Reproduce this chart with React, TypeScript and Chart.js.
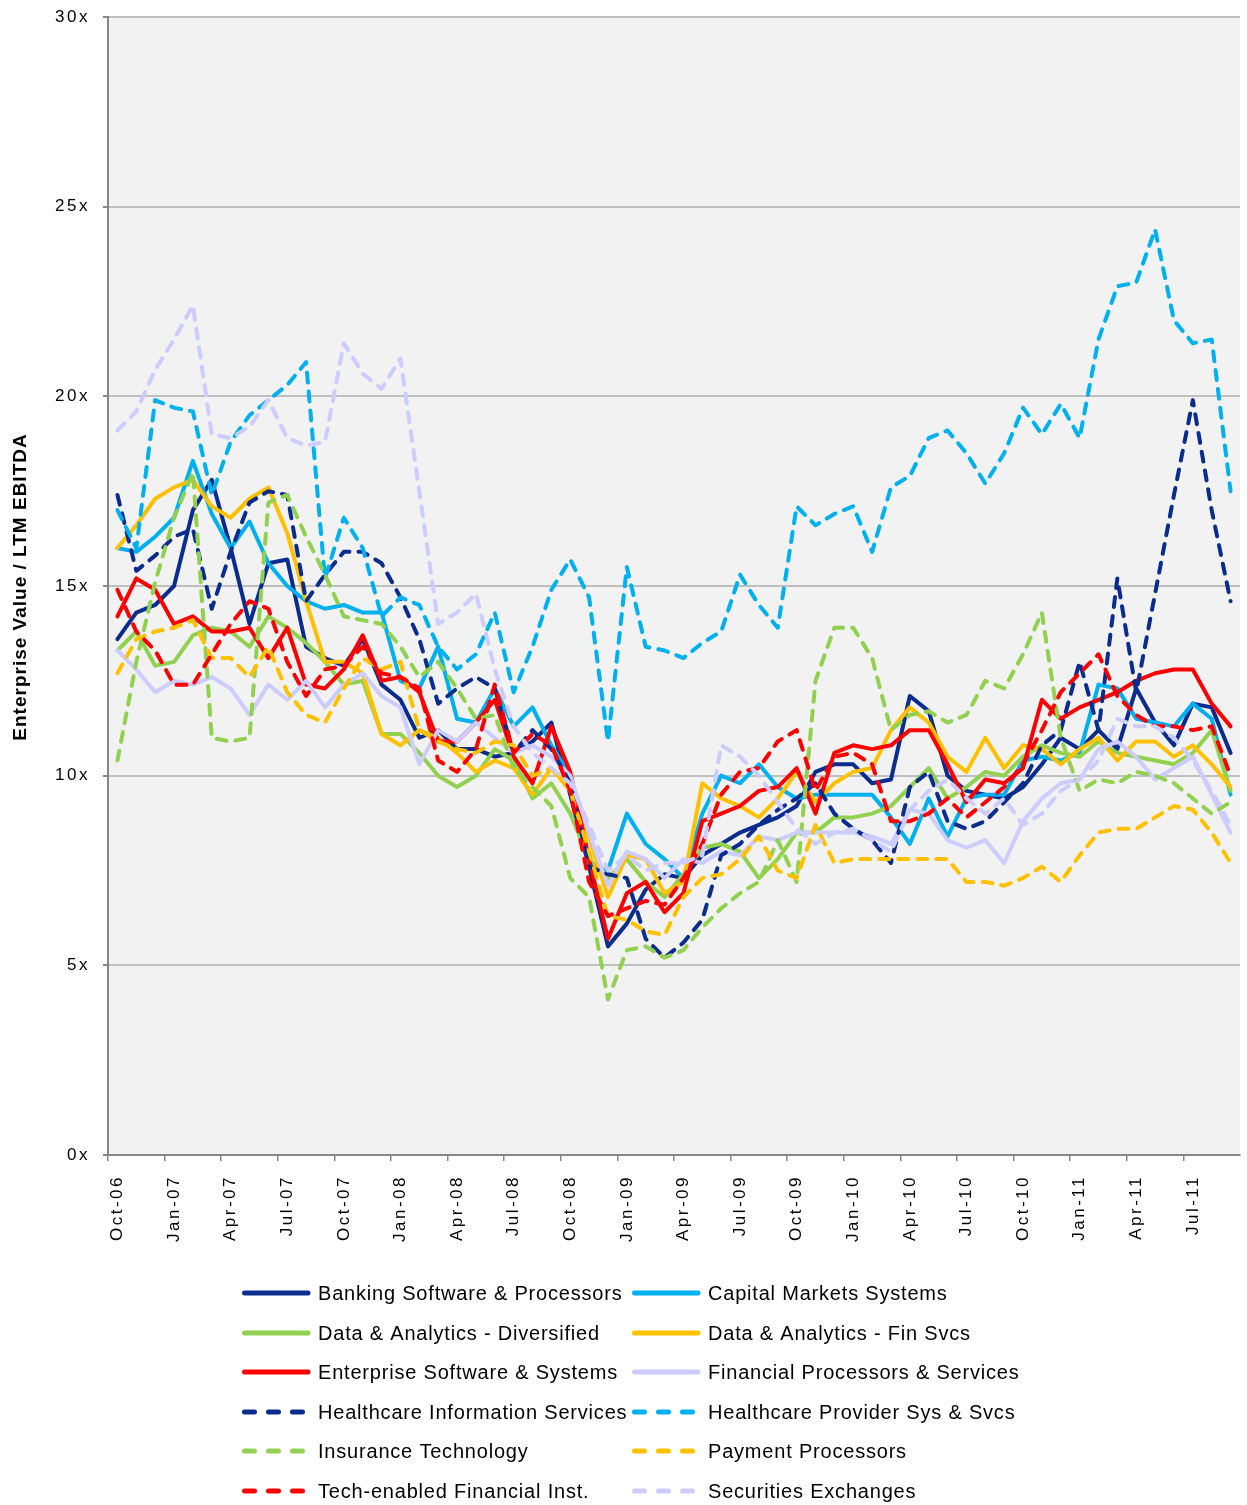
import React, { useEffect, useRef } from "react";
import { Chart, registerables } from "chart.js";

Chart.register(...registerables);

const months = [
  "Oct-06", "Nov-06", "Dec-06",
  "Jan-07", "Feb-07", "Mar-07", "Apr-07", "May-07", "Jun-07", "Jul-07", "Aug-07", "Sep-07", "Oct-07", "Nov-07", "Dec-07",
  "Jan-08", "Feb-08", "Mar-08", "Apr-08", "May-08", "Jun-08", "Jul-08", "Aug-08", "Sep-08", "Oct-08", "Nov-08", "Dec-08",
  "Jan-09", "Feb-09", "Mar-09", "Apr-09", "May-09", "Jun-09", "Jul-09", "Aug-09", "Sep-09", "Oct-09", "Nov-09", "Dec-09",
  "Jan-10", "Feb-10", "Mar-10", "Apr-10", "May-10", "Jun-10", "Jul-10", "Aug-10", "Sep-10", "Oct-10", "Nov-10", "Dec-10",
  "Jan-11", "Feb-11", "Mar-11", "Apr-11", "May-11", "Jun-11", "Jul-11", "Aug-11", "Sep-11",
];

const bankingSoftware = [
  13.6, 14.3, 14.5, 15.0, 17.0, 17.8, 16.0, 14.0, 15.6, 15.7,
  13.4, 13.1, 12.9, 13.6, 12.4, 12.0, 11.0, 11.2, 10.7, 10.7,
  10.5, 10.6, 10.9, 11.4, 9.5, 7.6, 5.5, 6.1, 7.0, 7.4,
  7.3, 7.9, 8.2, 8.5, 8.7, 8.9, 9.2, 10.1, 10.3, 10.3,
  9.8, 9.9, 12.1, 11.7, 10.0, 9.6, 9.5, 9.4, 9.7, 10.3,
  11.0, 10.7, 11.2, 10.7, 12.3, 11.4, 10.8, 11.9, 11.8, 10.6,
];
const capitalMarkets = [
  16.0, 15.9, 16.3, 16.8, 18.3, 16.9, 16.0, 16.7, 15.6, 15.0,
  14.6, 14.4, 14.5, 14.3, 14.3, 12.5, 12.3, 13.4, 11.5, 11.4,
  12.3, 11.3, 11.8, 10.8, 10.0, 7.6, 7.5, 9.0, 8.2, 7.8,
  7.3, 9.0, 10.0, 9.8, 10.3, 9.7, 9.4, 9.5, 9.5, 9.5,
  9.5, 8.9, 8.2, 9.4, 8.4, 9.4, 9.5, 9.5, 10.4, 10.5,
  10.4, 10.6, 12.4, 12.3, 11.5, 11.4, 11.3, 11.9, 11.5, 9.5,
];
const dataDiversified = [
  13.3, 13.8, 12.9, 13.0, 13.7, 13.9, 13.8, 13.4, 14.2, 13.9,
  13.5, 13.0, 12.4, 12.5, 11.1, 11.1, 10.6, 10.0, 9.7, 10.0,
  10.7, 10.4, 9.4, 9.8, 9.0, 7.8, 7.3, 7.8, 7.2, 6.8,
  7.4, 8.1, 8.2, 8.0, 7.3, 7.8, 8.5, 8.5, 8.9, 8.9,
  9.0, 9.2, 9.7, 10.2, 9.4, 9.7, 10.1, 10.0, 10.5, 10.8,
  10.6, 10.5, 10.9, 10.6, 10.5, 10.4, 10.3, 10.6, 11.2, 9.6,
];
const dataFinSvcs = [
  16.0, 16.6, 17.3, 17.6, 17.8, 17.1, 16.8, 17.3, 17.6, 16.4,
  14.6, 13.0, 13.0, 12.7, 11.1, 10.8, 11.2, 11.0, 10.6, 10.1,
  10.4, 10.2, 9.5, 10.2, 9.6, 8.4, 6.8, 7.9, 7.8, 6.9,
  7.2, 9.8, 9.4, 9.2, 8.9, 9.4, 10.1, 9.3, 9.8, 10.1,
  10.2, 11.2, 11.8, 11.4, 10.5, 10.1, 11.0, 10.2, 10.8, 10.7,
  10.3, 10.7, 11.0, 10.4, 10.9, 10.9, 10.5, 10.8, 10.3, 9.7,
];
const enterpriseSoftware = [
  14.2, 15.2, 14.9, 14.0, 14.2, 13.8, 13.8, 13.9, 13.1, 13.9,
  12.4, 12.3, 12.8, 13.7, 12.5, 12.6, 12.2, 10.9, 10.9, 11.4,
  12.0, 10.5, 9.8, 11.3, 10.1, 7.8, 5.7, 6.9, 7.2, 6.4,
  6.9, 8.8, 9.0, 9.2, 9.6, 9.7, 10.2, 9.0, 10.6, 10.8,
  10.7, 10.8, 11.2, 11.2, 10.3, 9.3, 9.9, 9.8, 10.2, 12.0,
  11.5, 11.8, 12.0, 12.2, 12.5, 12.7, 12.8, 12.8, 11.9, 11.3,
];
const financialProcessors = [
  13.3, 12.8, 12.2, 12.5, 12.4, 12.6, 12.3, 11.6, 12.4, 12.0,
  12.5, 11.8, 12.4, 12.7, 12.1, 11.8, 10.3, 11.2, 10.9, 11.4,
  11.0, 10.6, 10.8, 10.5, 10.0, 8.5, 7.1, 8.0, 7.8, 7.3,
  7.8, 7.7, 8.0, 7.9, 8.4, 8.3, 8.5, 8.5, 8.5, 8.5,
  8.4, 8.2, 9.1, 9.0, 8.3, 8.1, 8.3, 7.7, 8.8, 9.4,
  9.8, 9.9, 10.7, 10.9, 10.5, 9.9, 10.2, 10.5, 9.5, 8.5,
];
const healthcareInfo = [
  17.4, 15.4, 15.8, 16.3, 16.5, 14.4, 15.9, 17.2, 17.5, 17.4,
  14.6, 15.3, 15.9, 15.9, 15.6, 14.7, 13.6, 11.9, 12.3, 12.6,
  12.3, 10.6, 11.2, 10.7, 9.8, 7.6, 7.4, 7.3, 5.7, 5.2,
  5.6, 6.2, 7.9, 8.2, 8.7, 9.1, 9.4, 9.8, 9.0, 8.6,
  8.3, 7.7, 9.7, 10.1, 8.8, 8.6, 8.8, 9.3, 9.8, 10.8,
  11.2, 13.0, 11.2, 15.2, 12.2, 14.8, 17.4, 19.9, 17.0, 14.6,
];
const healthcareProvider = [
  17.0, 16.0, 19.9, 19.7, 19.6, 17.4, 18.8, 19.5, 19.9, 20.3,
  20.9, 15.2, 16.8, 16.0, 14.2, 14.7, 14.5, 13.4, 12.8, 13.2,
  14.3, 12.2, 13.4, 14.9, 15.7, 14.7, 10.9, 15.5, 13.4, 13.3,
  13.1, 13.5, 13.8, 15.3, 14.5, 13.9, 17.1, 16.6, 16.9, 17.1,
  15.9, 17.6, 17.9, 18.9, 19.1, 18.5, 17.7, 18.5, 19.7, 19.0,
  19.8, 18.9, 21.5, 22.9, 23.0, 24.4, 22.0, 21.4, 21.5, 17.5,
];
const insuranceTech = [
  10.4, 13.0, 15.1, 16.8, 18.0, 11.0, 10.9, 11.0, 17.2, 17.4,
  16.3, 15.3, 14.2, 14.1, 14.0, 13.4, 12.6, 13.0, 12.3, 11.5,
  11.6, 10.2, 9.7, 9.2, 7.3, 6.8, 4.1, 5.4, 5.5, 5.2,
  5.4, 6.0, 6.5, 6.9, 7.2, 8.3, 7.2, 12.5, 13.9, 13.9,
  13.1, 11.2, 11.6, 11.7, 11.4, 11.6, 12.5, 12.3, 13.2, 14.3,
  11.0, 9.6, 9.9, 9.8, 10.1, 10.0, 9.8, 9.4, 9.0, 9.3,
];
const paymentProcessors = [
  12.7, 13.6, 13.8, 13.9, 14.1, 13.1, 13.1, 12.6, 13.4, 12.2,
  11.6, 11.4, 12.3, 13.1, 12.8, 13.0, 11.2, 10.9, 10.7, 10.6,
  10.9, 10.8, 10.0, 10.2, 9.6, 8.0, 6.3, 6.2, 5.9, 5.8,
  6.8, 7.3, 7.4, 7.8, 8.4, 7.5, 7.3, 8.7, 7.7, 7.8,
  7.8, 7.8, 7.8, 7.8, 7.8, 7.2, 7.2, 7.1, 7.3, 7.6,
  7.2, 7.9, 8.5, 8.6, 8.6, 8.9, 9.2, 9.1, 8.5, 7.7,
];
const techEnabledFI = [
  14.9, 13.8, 13.3, 12.4, 12.4, 13.2, 14.0, 14.6, 14.4, 13.0,
  12.1, 12.8, 12.9, 13.4, 12.7, 12.6, 12.3, 10.4, 10.1, 10.7,
  12.4, 10.6, 11.1, 10.8, 9.6, 7.2, 6.3, 6.5, 6.7, 6.6,
  7.3, 8.2, 9.5, 10.1, 10.2, 10.9, 11.2, 9.6, 10.5, 10.6,
  10.3, 8.8, 8.8, 9.0, 9.4, 8.9, 9.3, 9.7, 10.3, 11.2,
  12.2, 12.7, 13.2, 12.1, 11.6, 11.3, 11.3, 11.2, 11.3, 10.0,
];
const securitiesExchanges = [
  19.1, 19.6, 20.7, 21.5, 22.4, 19.0, 18.9, 19.2, 19.9, 18.9,
  18.7, 18.8, 21.4, 20.6, 20.2, 21.0, 17.5, 14.0, 14.3, 14.8,
  12.8, 11.3, 10.6, 10.2, 9.8, 8.7, 7.5, 7.9, 7.5, 7.7,
  7.7, 7.9, 10.8, 10.5, 10.0, 9.3, 8.6, 8.2, 8.5, 8.6,
  8.3, 8.0, 9.1, 9.6, 9.9, 9.4, 9.0, 9.4, 8.7, 9.0,
  9.6, 9.9, 10.4, 11.5, 11.3, 11.3, 11.0, 10.4, 9.6, 8.7,
];

const seriesNames = [
  "Banking Software & Processors",
  "Capital Markets Systems",
  "Data & Analytics - Diversified",
  "Data & Analytics - Fin Svcs",
  "Enterprise Software & Systems",
  "Financial Processors & Services",
  "Healthcare Information Services",
  "Healthcare Provider Sys & Svcs",
  "Insurance Technology",
  "Payment Processors",
  "Tech-enabled Financial Inst.",
  "Securities Exchanges",
];
const seriesValues = [
  bankingSoftware, capitalMarkets, dataDiversified, dataFinSvcs,
  enterpriseSoftware, financialProcessors, healthcareInfo, healthcareProvider,
  insuranceTech, paymentProcessors, techEnabledFI, securitiesExchanges,
];

const yTicks = [0, 5, 10, 15, 20, 25, 30];

const NAVY = "#0A2C8E";
const SKY = "#00B0F0";
const GREEN = "#92D050";
const GOLD = "#FFC000";
const RED = "#FF0000";
const LAV = "#CCCCFF";
const seriesColors = [NAVY, SKY, GREEN, GOLD, RED, LAV, NAVY, SKY, GREEN, GOLD, RED, LAV];
const seriesDashed = [false, false, false, false, false, false, true, true, true, true, true, true];

const FONT = "'Liberation Sans', Arial, sans-serif";

export default function App() {
  const ref = useRef<HTMLCanvasElement>(null);

  useEffect(() => {
    document.body.style.margin = "0";
    const canvas = ref.current;
    if (!canvas) return;

    const decor = {
      id: "decor",
      beforeLayout(chart: any) {
        chart.ctx.letterSpacing = "2.5px";
      },
      beforeDraw(chart: any) {
        const { ctx, chartArea: a } = chart;
        ctx.save();
        ctx.fillStyle = "#F2F2F2";
        ctx.fillRect(a.left, a.top, a.right - a.left, a.bottom - a.top);
        ctx.restore();
        ctx.letterSpacing = "2.5px";
      },
      afterDraw(chart: any) {
        const { ctx } = chart;
        ctx.save();
        // y-axis title
        ctx.letterSpacing = "1px";
        ctx.font = `bold 19px ${FONT}`;
        ctx.fillStyle = "#000";
        ctx.textAlign = "center";
        ctx.textBaseline = "middle";
        ctx.translate(21, 587);
        ctx.rotate(-Math.PI / 2);
        ctx.fillText("Enterprise Value / LTM EBITDA", 0, 0);
        ctx.restore();

        // legend
        ctx.save();
        const rowY = [1293, 1333, 1372, 1412, 1451, 1491];
        const colX = [242, 632];
        const textX = [318, 708];
        ctx.letterSpacing = "0.8px";
        ctx.font = `20px ${FONT}`;
        ctx.textBaseline = "middle";
        ctx.textAlign = "left";
        seriesNames.forEach((name, i) => {
          const r = Math.floor(i / 2);
          const c = i % 2;
          const y = rowY[r];
          ctx.strokeStyle = seriesColors[i];
          ctx.lineWidth = 5;
          ctx.lineCap = "round";
          ctx.beginPath();
          ctx.setLineDash(seriesDashed[i] ? [10, 14] : []);
          ctx.moveTo(colX[c] + 2.5, y);
          ctx.lineTo(colX[c] + 66, y);
          ctx.stroke();
          ctx.fillStyle = "#000";
          ctx.fillText(name, textX[c], y + 1);
        });
        ctx.restore();
      },
    };

    const chart = new Chart(canvas, {
      type: "line",
      data: {
        labels: months,
        datasets: seriesNames.map((name, i) => ({
          label: name,
          data: seriesValues[i],
          borderColor: seriesColors[i],
          backgroundColor: seriesColors[i],
          borderWidth: 4,
          borderDash: seriesDashed[i] ? [10, 9] : [],
          borderCapStyle: "round",
          borderJoinStyle: "round",
          pointRadius: 0,
          pointHoverRadius: 0,
          fill: false,
          tension: 0,
          order: seriesNames.length - i,
        })),
      },
      options: {
        responsive: false,
        maintainAspectRatio: false,
        animation: false,
        events: [],
        layout: { padding: { top: 17, right: 7, left: 0, bottom: 0 } },
        plugins: {
          legend: { display: false },
          tooltip: { enabled: false },
        },
        scales: {
          x: {
            type: "category",
            offset: true,
            afterFit(scale: any) {
              scale.height = 350;
              scale.paddingLeft = 0;
              scale.paddingRight = 0;
            },
            border: { display: true, color: "#868686", width: 2 },
            grid: {
              display: true,
              offset: true,
              drawOnChartArea: false,
              drawTicks: true,
              tickLength: 6,
              lineWidth: 1.5,
              color: (ctx: any) => (ctx.index % 3 === 0 ? "#868686" : "rgba(0,0,0,0)"),
            },
            ticks: {
              autoSkip: false,
              maxRotation: 90,
              minRotation: 90,
              padding: 14,
              color: "#000",
              font: { family: FONT, size: 17 },
              callback: (_v: any, idx: number) => (idx % 3 === 0 ? months[idx] : ""),
            },
          },
          y: {
            min: 0,
            max: 30,
            afterFit(scale: any) {
              scale.width = 108;
              scale.paddingTop = 0;
              scale.paddingBottom = 0;
            },
            afterBuildTicks(scale: any) {
              scale.ticks = yTicks.map((v) => ({ value: v }));
            },
            border: { display: true, color: "#868686", width: 2 },
            grid: {
              color: "#BFBFBF",
              lineWidth: 2,
              drawTicks: true,
              tickLength: 5,
              tickColor: "#868686",
            },
            ticks: {
              padding: 13,
              color: "#000",
              font: { family: FONT, size: 17 },
              callback: (v: any) => `${v}x`,
            },
          },
        },
      },
      plugins: [decor],
    } as any);

    return () => {
      chart.destroy();
    };
  }, []);

  return (
    <div style={{ width: 1247, height: 1505 }}>
      <canvas ref={ref} width={1247} height={1505} style={{ display: "block", width: 1247, height: 1505 }} />
    </div>
  );
}
